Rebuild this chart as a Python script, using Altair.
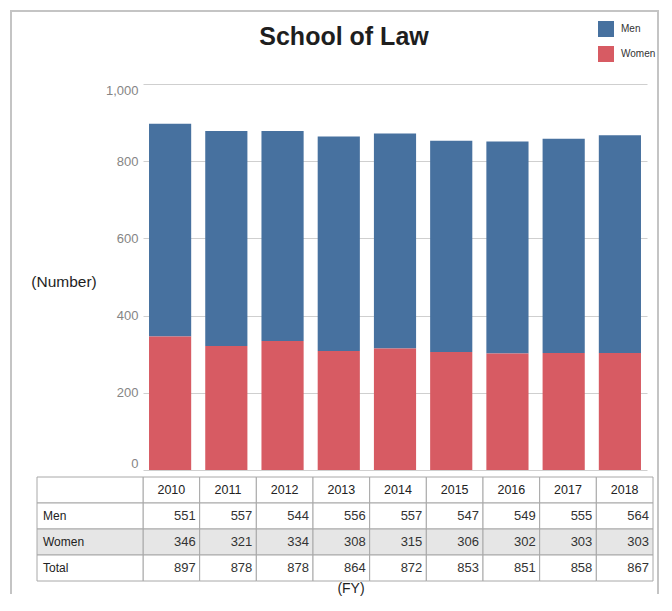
import altair as alt
import pandas as pd

years = [2010, 2011, 2012, 2013, 2014, 2015, 2016, 2017, 2018]
men = [551, 557, 544, 556, 557, 547, 549, 555, 564]
women = [346, 321, 334, 308, 315, 306, 302, 303, 303]
total = [897, 878, 878, 864, 872, 853, 851, 858, 867]
series = ["Men", "Women"]
colors = ["#47719F", "#D75B63"]
y_ticks = [0, 200, 400, 600, 800, 1000]
row_keys = ["hdr", "Men", "Women", "Total"]
row_labels = ["", "Men", "Women", "Total"]

FONT = "Liberation Sans, Arial, sans-serif"

bars_df = pd.DataFrame(
    [{"year": y, "sex": "Men", "count": m, "ord": 1} for y, m in zip(years, men)]
    + [{"year": y, "sex": "Women", "count": w, "ord": 0} for y, w in zip(years, women)]
)

rows = []
for i, y in enumerate(years):
    rows.append({"year": y, "row": "hdr", "val": str(y)})
    rows.append({"year": y, "row": "Men", "val": str(men[i])})
    rows.append({"year": y, "row": "Women", "val": str(women[i])})
    rows.append({"year": y, "row": "Total", "val": str(total[i])})
table_df = pd.DataFrame(rows)
label_df = pd.DataFrame({"row": row_keys, "label": row_labels})

W_TOP, H_TOP = 504, 386
W_TAB, H_TAB = 510, 104
FRAME_COLOR = "#c4c4c4"

bars = alt.Chart(bars_df).mark_bar().encode(
    x=alt.X("year:O", axis=None,
            scale=alt.Scale(domain=years, paddingInner=0.25, paddingOuter=0.107)),
    y=alt.Y("count:Q", stack="zero",
            scale=alt.Scale(domain=[0, 1000], nice=False),
            axis=alt.Axis(values=y_ticks, format=",d", title=None, domain=False,
                          grid=True, gridColor="#cfcfcf", ticks=False,
                          labelColor="#858585", labelFontSize=13,
                          labelFont=FONT, labelPadding=5, labelFlush=True)),
    color=alt.Color("sex:N", scale=alt.Scale(domain=series, range=colors),
                    legend=alt.Legend(orient="none", legendX=455, legendY=-63,
                                      title=None, symbolType="square",
                                      symbolSize=256, symbolStrokeWidth=0,
                                      labelFontSize=10, labelFont=FONT,
                                      labelColor="#333333", labelOffset=7,
                                      rowPadding=9, padding=0)),
    order=alt.Order("ord:Q"),
)

title = alt.Chart(pd.DataFrame({"t": ["School of Law"]})).mark_text(
    font=FONT, fontSize=25, fontWeight="bold", color="#1e1e1e", baseline="middle"
).encode(text="t:N", x=alt.value(201), y=alt.value(-47))

ylab = alt.Chart(pd.DataFrame({"t": ["(Number)"]})).mark_text(
    font=FONT, fontSize=15.5, color="#1e1e1e", baseline="middle"
).encode(text="t:N", x=alt.value(-79), y=alt.value(198))

one = pd.DataFrame({"t": [0]})
frame_top = alt.Chart(one).mark_rule(color=FRAME_COLOR, strokeWidth=2).encode(
    x=alt.value(-132), x2=alt.value(516), y=alt.value(-73))
frame_left = alt.Chart(one).mark_rule(color=FRAME_COLOR, strokeWidth=2).encode(
    x=alt.value(-132), y=alt.value(-74), y2=alt.value(510))
frame_right = alt.Chart(one).mark_rule(color=FRAME_COLOR, strokeWidth=2).encode(
    x=alt.value(515), y=alt.value(-74), y2=alt.value(510))

top = alt.layer(frame_top, frame_left, frame_right, bars, title, ylab).properties(
    width=W_TOP, height=H_TOP)

xs = alt.X("year:O", axis=None, scale=alt.Scale(domain=years, paddingInner=0, paddingOuter=0))
xr = alt.X("year:O", bandPosition=1, axis=None,
           scale=alt.Scale(domain=years, paddingInner=0, paddingOuter=0))
ys = alt.Y("row:O", axis=None, scale=alt.Scale(domain=row_keys, paddingInner=0, paddingOuter=0))

women_fill = alt.condition(alt.datum.row == "Women", alt.value("#e6e6e6"), alt.value("white"))

cells = alt.Chart(table_df).mark_rect(stroke="#a8a8a8", strokeWidth=1).encode(
    x=xs, y=ys, fill=women_fill)
label_cells = alt.Chart(label_df).mark_rect(stroke="#a8a8a8", strokeWidth=1).encode(
    x=alt.value(-106), x2=alt.value(0), y=ys, fill=women_fill)
label_text = alt.Chart(label_df).mark_text(
    font=FONT, fontSize=12, color="#222222", align="left", baseline="middle"
).encode(x=alt.value(-100), y=ys, text="label:N")

hdr_text = alt.Chart(table_df).transform_filter(alt.datum.row == "hdr").mark_text(
    font=FONT, fontSize=12.5, color="#222222", baseline="middle"
).encode(x=xs, y=ys, text="val:N")

val_text = alt.Chart(table_df).transform_filter(alt.datum.row != "hdr").mark_text(
    font=FONT, fontSize=13, color="#333333", baseline="middle", align="right", dx=-4
).encode(x=xr, y=ys, text="val:N")

fy = alt.Chart(pd.DataFrame({"t": ["(FY)"]})).mark_text(
    font=FONT, fontSize=14, color="#1e1e1e", baseline="middle"
).encode(text="t:N", x=alt.value(208), y=alt.value(112))

table = alt.layer(cells, label_cells, label_text, hdr_text, val_text, fy).properties(
    width=W_TAB, height=H_TAB
)

chart = alt.vconcat(top, table, spacing=7, bounds="flush").properties(
    padding={"left": 1, "top": 0, "right": 0, "bottom": 0}
).configure_view(stroke="transparent")

chart.save("out.html", embed_options={"renderer": "svg", "actions": False})
